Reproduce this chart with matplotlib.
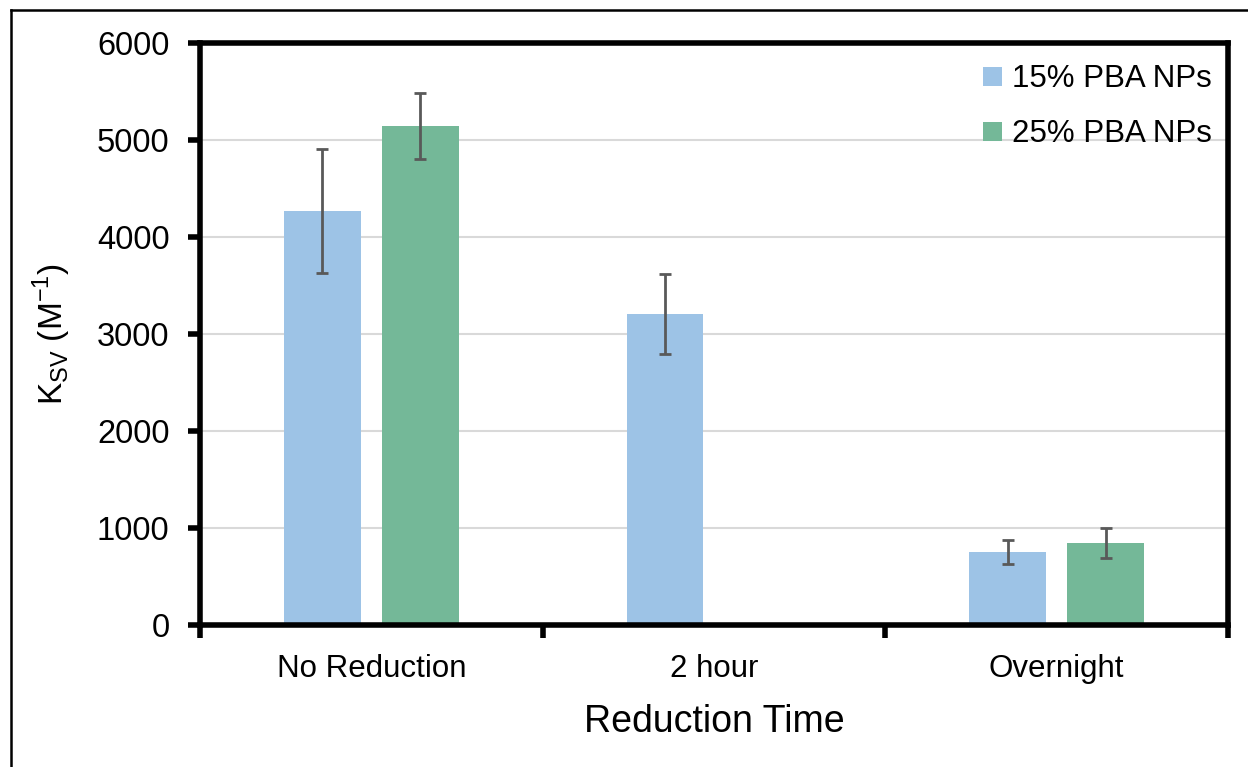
import numpy as np
import matplotlib
matplotlib.use("Agg")
from matplotlib import pyplot as plt
from matplotlib.lines import Line2D

categories = ["No Reduction", "2 hour", "Overnight"]
series_names = ["15% PBA NPs", "25% PBA NPs"]
pba15 = [4270, 3205, 755]
pba15_err = [640, 410, 125]
pba25 = [5145, np.nan, 845]
pba25_err = [340, np.nan, 157]

plt.rcParams['font.family'] = ['Liberation Sans', 'DejaVu Sans']

fig = plt.figure(figsize=(12.48, 7.67), dpi=100)
ax = fig.add_axes([200/1248, 1 - 625/767, 1028/1248, 582/767])

x = np.arange(len(categories))
w = 0.224
off = 0.143
err_kw = dict(ecolor="#595959", elinewidth=2, capsize=4.5, capthick=2)
ax.bar(x - off, pba15, w, color="#9DC3E6", label=series_names[0], zorder=2,
       yerr=pba15_err, error_kw=err_kw)
ax.bar(x + off, pba25, w, color="#74B898", label=series_names[1], zorder=2,
       yerr=pba25_err, error_kw=err_kw)

ax.set_xlim(-0.5, 2.5)
ax.set_ylim(0, 6000)
ax.set_yticks(np.arange(0, 6001, 1000))
ax.yaxis.grid(True, color="#d9d9d9", linewidth=1.5, zorder=0)
ax.set_axisbelow(True)

ax.set_xticks(x)
ax.set_xticklabels(categories, fontsize=22.5)
ax.set_xticks([-0.5, 0.5, 1.5, 2.5], minor=True)
ax.tick_params(axis="x", which="major", length=0, pad=21)
ax.tick_params(axis="x", which="minor", length=9, width=4, direction="out")
ax.tick_params(axis="y", length=9, width=4, direction="out", labelsize=23.5, pad=13)

for s in ax.spines.values():
    s.set_linewidth(4)
    s.set_color("black")

ax.set_xlabel("Reduction Time", fontsize=27, labelpad=14)
ax.set_ylabel(r"K$_{\mathregular{SV}}$ (M$^{\mathregular{-1}}$)", fontsize=24, labelpad=17)

leg = ax.legend(loc="upper right", bbox_to_anchor=(1.0, 0.99), frameon=False,
                fontsize=22.5, handlelength=0.6, handleheight=0.6,
                handletextpad=0.35, labelspacing=0.8, borderaxespad=0.1)

fig.add_artist(Line2D([11/1248, 11/1248], [0, 1 - 10/767], color="black", lw=1.8,
                      transform=fig.transFigure))
fig.add_artist(Line2D([11/1248, 1], [1 - 10/767, 1 - 10/767], color="black", lw=1.8,
                      transform=fig.transFigure))

fig.savefig("out.png", dpi=100)
